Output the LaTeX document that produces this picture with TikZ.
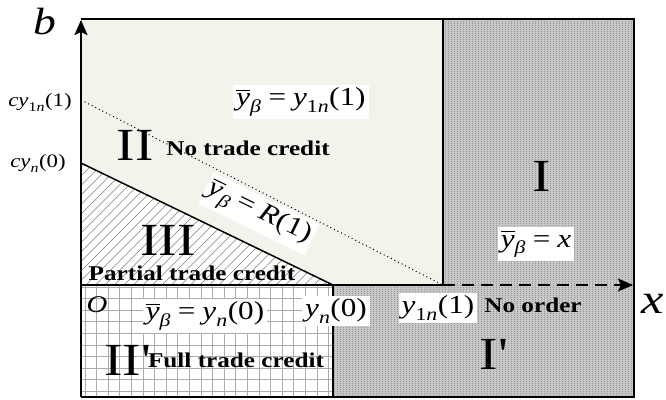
\documentclass[tikz,border=0pt]{standalone}
\usepackage{amsmath,amssymb}
\usepackage{fontspec}
\setmainfont{Liberation Serif}[FakeStretch=1.2]
\usepackage{tikz}
\usetikzlibrary{arrows.meta}

\definecolor{hellbeige}{RGB}{243,243,235}
\newcommand{\yb}{\overline{\textit{y}}}
\newcommand{\yv}{\textit{y}}
\newcommand{\gl}{\mathrel{\textrm{=}}}

\begin{document}
\begin{tikzpicture}[x=1pt, y=-1pt,
  achse/.style={line width=2pt},
  spitze/.style={-{Stealth[length=15pt, width=13pt, inset=3pt]}},
  gitter/.style={draw=black!33, line width=1pt},
  formel/.style={fill=white, inner sep=3pt, font=\fontsize{26}{30}\selectfont},
  bereich/.style={font=\fontsize{21}{24}\bfseries\selectfont, inner sep=0pt},
  roem/.style={font=\fontsize{46}{50}\selectfont, inner sep=0pt}]
  \useasboundingbox (0,0) rectangle (666,399);

  % Eckpunkte
  \coordinate (tl) at (81,19);
  \coordinate (tr) at (634,19);
  \coordinate (br) at (634,397);
  \coordinate (bl) at (81,397);
  \coordinate (O) at (81,285);
  \coordinate (mt) at (443,19);
  \coordinate (mx) at (443,285);
  \coordinate (yn) at (333,285);
  \coordinate (ynb) at (333,397);
  \coordinate (c0) at (81,163);
  \coordinate (c1) at (81,100);
  \coordinate (xs) at (616,285);
  \coordinate (xe) at (633,285);
  \coordinate (bs) at (81,42);
  \coordinate (be) at (81,20);

  % Bereich II
  \fill[hellbeige] (tl) -- (mt) -- (mx) -- (yn) -- (c0) -- cycle;
  % Bereich III
  \fill[white] (c0) -- (yn) -- (O) -- cycle;
  \begin{scope}
    \clip (c0) -- (yn) -- (O) -- cycle;
    \foreach \k in {-14,...,26}
      \draw[draw=black!50, line width=0.5pt] (81+9.5*\k,290) -- ++(140,-140);
  \end{scope}
  % Bereich II'
  \fill[white] (O) rectangle (ynb);
  \begin{scope}
    \clip (O) rectangle (ynb);
    \foreach \i in {0,...,22}
      \draw[gitter] (85+11.6*\i,285) -- ++(0,112);
    \foreach \j in {0,...,10}
      \draw[gitter] (81,287+11.6*\j) -- ++(252,0);
  \end{scope}
  % Bereich I und I'
  \fill[black!22] (mt) -- (tr) -- (br) -- (ynb) -- (yn) -- (mx) -- cycle;
  \begin{scope}
    \clip (mt) -- (tr) -- (br) -- (ynb) -- (yn) -- (mx) -- cycle;
    \foreach \i in {0,...,100}
      \draw[draw=black!42, line width=0.8pt, dash pattern=on 0.9pt off 1.1pt]
        (334+3*\i,19) -- ++(0,378);
  \end{scope}

  % Rahmen und Grenzen
  \draw[achse] (tl) -- (tr) -- (br) -- (bl);
  \draw[line width=1.5pt] (mt) -- (mx);
  \draw[line width=2.5pt] (yn) -- (ynb);
  \draw[line width=1.5pt] (c0) -- (yn);
  \draw[line width=1pt, dash pattern=on 1pt off 3pt] (c1) -- (mx);

  % Achsen
  \draw[line width=2.5pt] (bl) -- (bs);
  \draw[achse, spitze] (bs) -- (be);
  \draw[achse] (O) -- (mx);
  \draw[achse, dash pattern=on 12pt off 7pt] (mx) -- (xs);
  \draw[achse, spitze] (xs) -- (xe);

  \node[font=\fontsize{38}{40}\itshape\selectfont] (b) at (45,22) {b};
  \node[font=\fontsize{42}{44}\itshape\selectfont] (x) at (653,304) {x};
  \node[font=\fontsize{24}{26}\itshape\selectfont] (o) at (97,305) {O};
  \node[font=\fontsize{19}{22}\selectfont] (cy1) at (40,102)
    {$\textit{cy}_{\textrm{1}\textit{n}}\textrm{(1)}$};
  \node[font=\fontsize{19}{22}\selectfont] (cy0) at (38,163)
    {$\textit{cy}_{\textit{n}}\textrm{(0)}$};

  % Formeln
  \node[formel] (f1) at (301,102) {$\yb_{\textit{β}} \gl \yv_{\textrm{1}\textit{n}}\textrm{(1)}$};
  \node[formel, rotate=-26] (fr) at (259,214) {$\yb_{\textit{β}} \gl \textit{R}\textrm{(1)}$};
  \node[formel] (f0) at (205,316) {$\yb_{\textit{β}} \gl \yv_{\textit{n}}\textrm{(0)}$};
  \node[formel] (fx) at (536,244) {$\yb_{\textit{β}} \gl \textit{x}$};
  \node[formel] (yn0) at (336,311) {$\yv_{\textit{n}}\textrm{(0)}$};
  \node[formel] (y1n) at (438,308) {$\yv_{\textrm{1}\textit{n}}\textrm{(1)}$};

  % Bereiche beschriften
  \node[roem] (r2) at (135,145) {II};
  \node[bereich] (t2) at (248,148) {No trade credit};
  \node[roem] (r3) at (168,240) {III};
  \node[bereich] (t3) at (192,273) {Partial trade credit};
  \node[roem] (r2s) at (127,360) {II\textquotesingle};
  \node[bereich] (t2s) at (236,360) {Full trade credit};
  \node[roem] (r1) at (542,176) {I};
  \node[roem] (r1s) at (493,354) {I\textquotesingle};
  \node[bereich] (t1s) at (533,305) {No order};
\end{tikzpicture}
\end{document}
